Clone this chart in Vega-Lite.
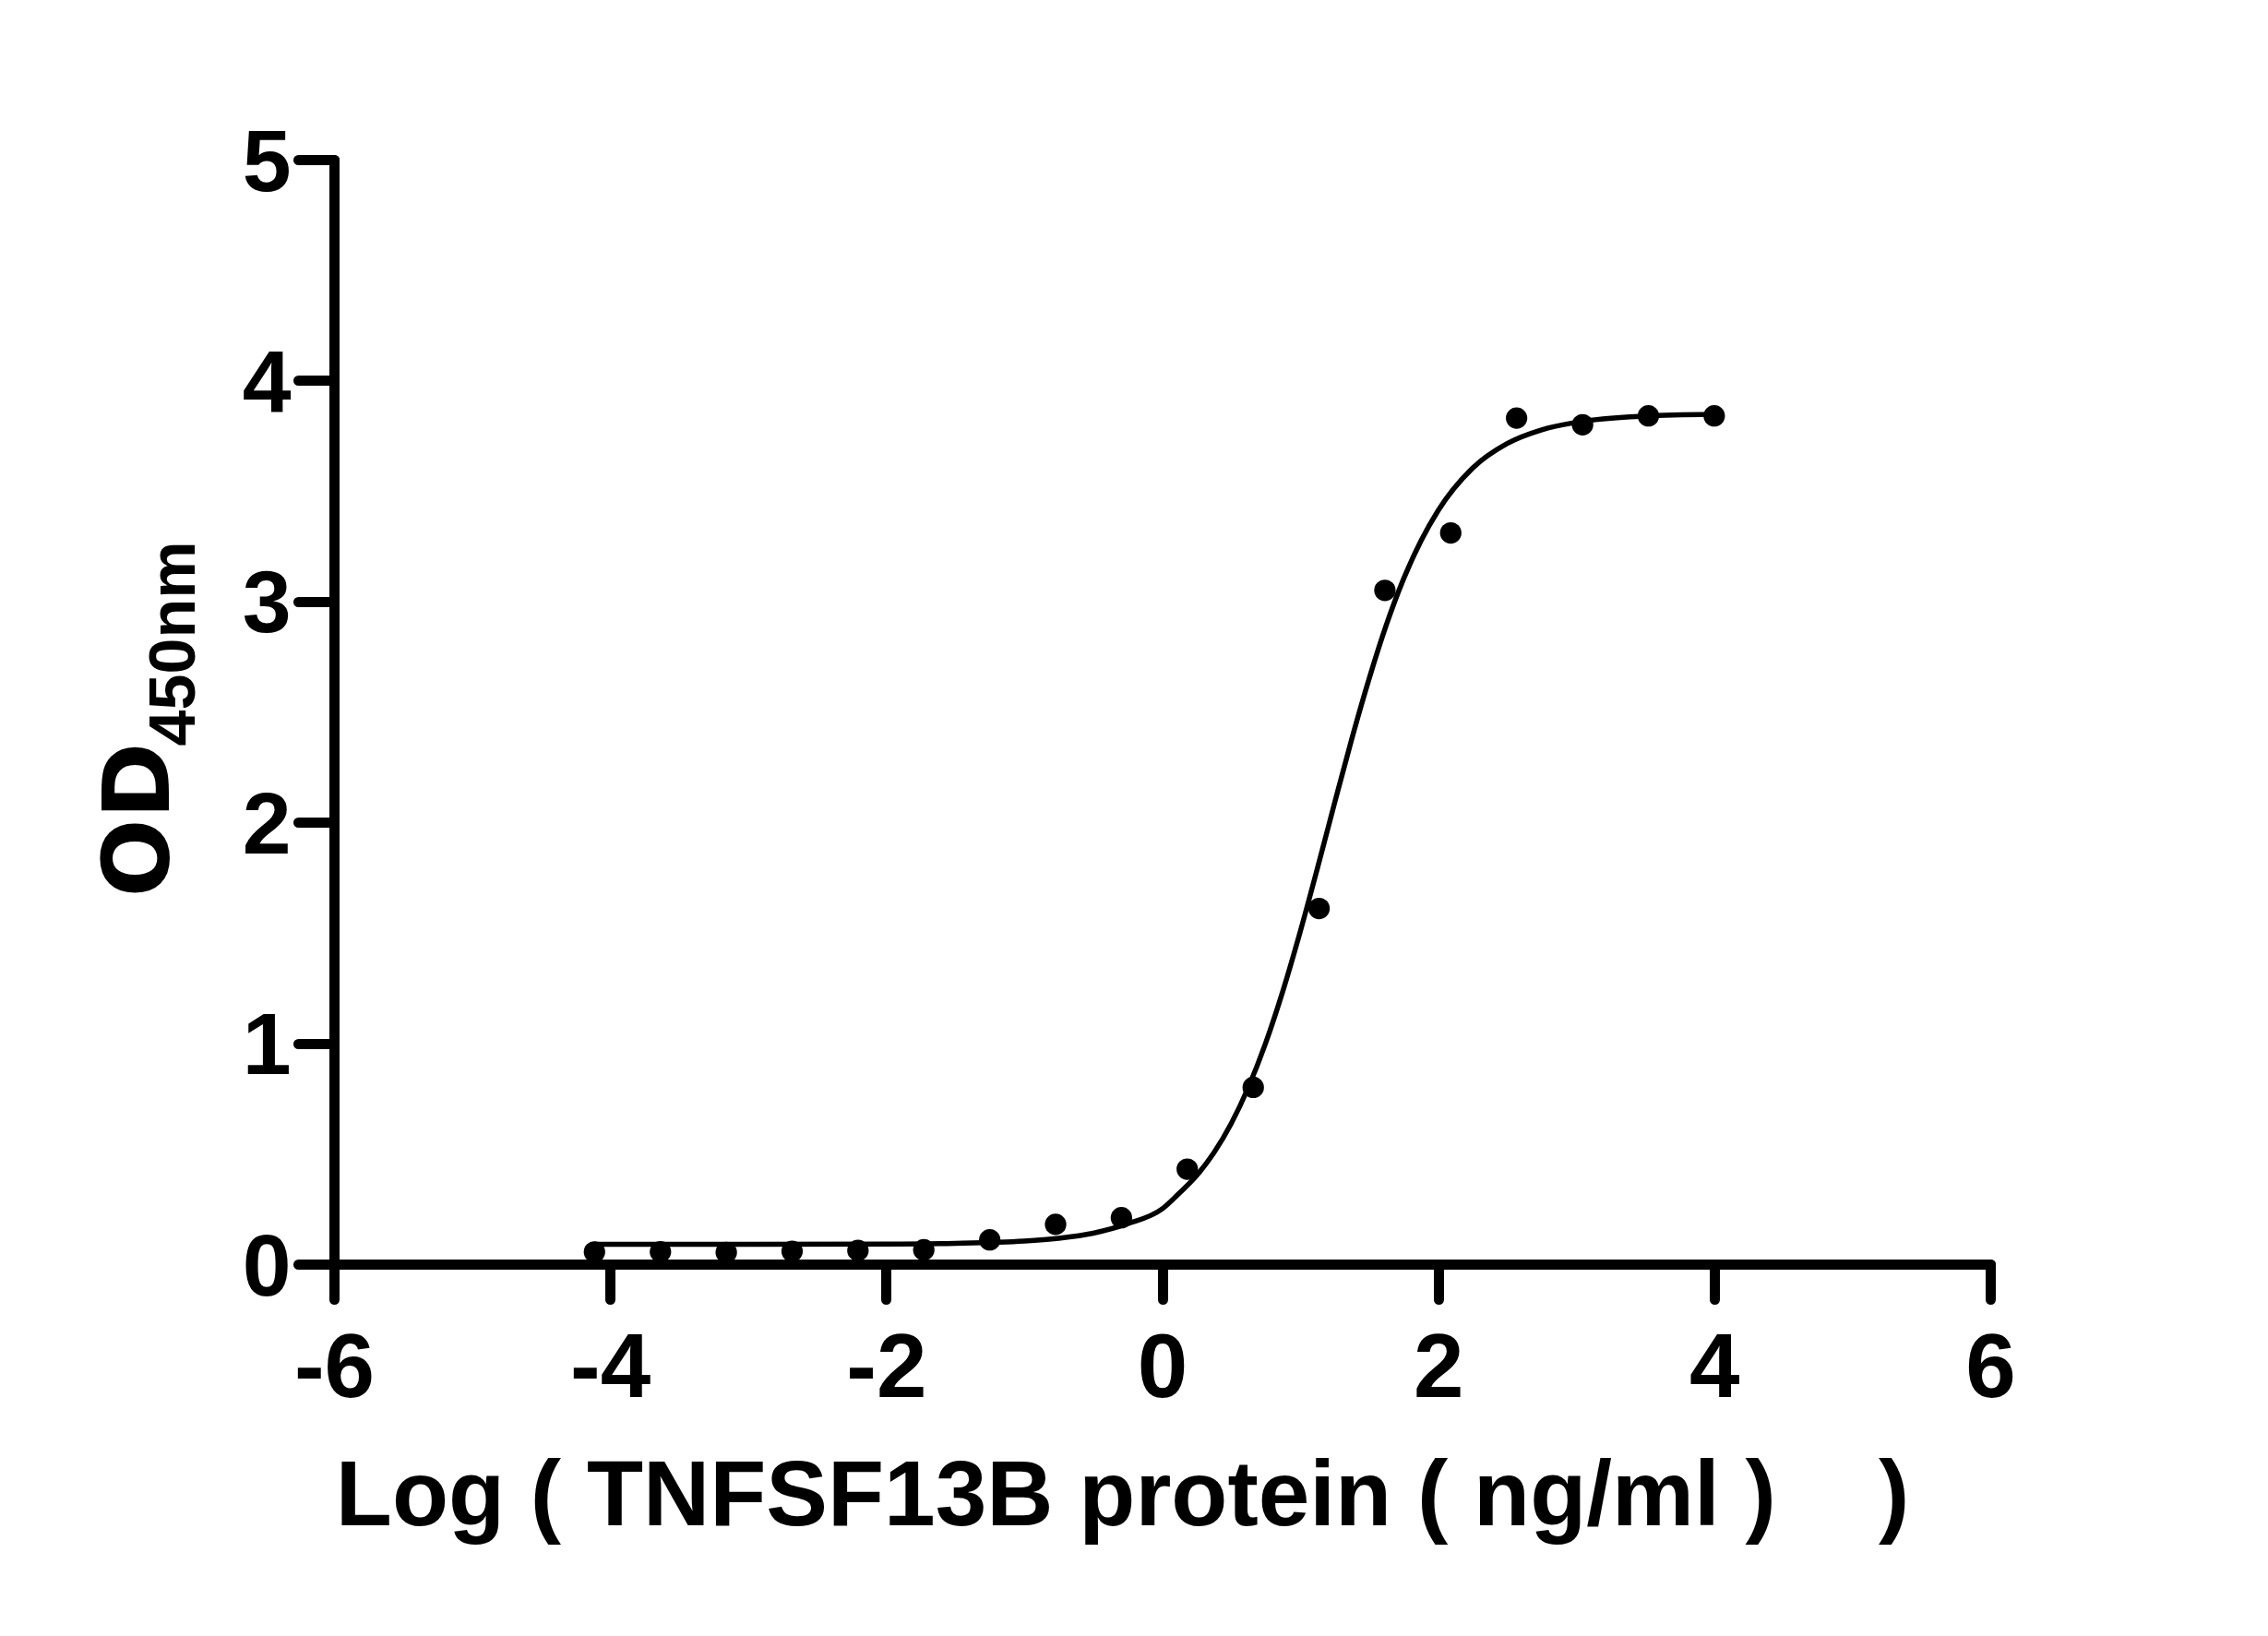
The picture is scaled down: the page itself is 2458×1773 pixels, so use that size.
{
  "$schema": "https://vega.github.io/schema/vega-lite/v6.json",
  "width": 1795,
  "height": 1197,
  "autosize": "none",
  "padding": {"left": 362, "top": 173, "right": 301, "bottom": 403},
  "background": "white",
  "config": {
    "view": {"stroke": null},
    "axis": {
      "grid": false,
      "domainColor": "black",
      "domainWidth": 11,
      "domainCap": "round",
      "tickColor": "black",
      "tickWidth": 11,
      "tickCap": "round",
      "labelColor": "black",
      "labelFont": "Liberation Sans",
      "labelFontWeight": "bold",
      "labelLimit": 0,
      "labelFlush": false,
      "labelOverlap": false,
      "titleColor": "black",
      "titleFontWeight": "bold",
      "titleLimit": 0
    }
  },
  "datasets": {
    "points": [
      {"logConc": -4.113, "od": 0.055},
      {"logConc": -3.635, "od": 0.056},
      {"logConc": -3.158, "od": 0.053},
      {"logConc": -2.681, "od": 0.058},
      {"logConc": -2.204, "od": 0.062},
      {"logConc": -1.727, "od": 0.065},
      {"logConc": -1.249, "od": 0.11},
      {"logConc": -0.772, "od": 0.18},
      {"logConc": -0.295, "od": 0.21},
      {"logConc": 0.182, "od": 0.43},
      {"logConc": 0.66, "od": 0.8},
      {"logConc": 1.137, "od": 1.61},
      {"logConc": 1.614, "od": 3.05},
      {"logConc": 2.091, "od": 3.31},
      {"logConc": 2.568, "od": 3.83},
      {"logConc": 3.046, "od": 3.8},
      {"logConc": 3.523, "od": 3.84},
      {"logConc": 4.0, "od": 3.84}
    ],
    "fit": [
      {"logConc": -4.12, "od": 0.09},
      {"logConc": -3.0, "od": 0.09},
      {"logConc": -2.0, "od": 0.091},
      {"logConc": -1.5, "od": 0.094},
      {"logConc": -1.0, "od": 0.104},
      {"logConc": -0.75, "od": 0.117},
      {"logConc": -0.5, "od": 0.14},
      {"logConc": -0.25, "od": 0.183},
      {"logConc": 0.0, "od": 0.25},
      {"logConc": 0.125, "od": 0.322},
      {"logConc": 0.25, "od": 0.401},
      {"logConc": 0.375, "od": 0.504},
      {"logConc": 0.5, "od": 0.636},
      {"logConc": 0.625, "od": 0.801},
      {"logConc": 0.75, "od": 1.001},
      {"logConc": 0.875, "od": 1.237},
      {"logConc": 1.0, "od": 1.504},
      {"logConc": 1.125, "od": 1.792},
      {"logConc": 1.25, "od": 2.089},
      {"logConc": 1.375, "od": 2.38},
      {"logConc": 1.5, "od": 2.651},
      {"logConc": 1.625, "od": 2.895},
      {"logConc": 1.75, "od": 3.103},
      {"logConc": 1.875, "od": 3.274},
      {"logConc": 2.0, "od": 3.412},
      {"logConc": 2.25, "od": 3.604},
      {"logConc": 2.5, "od": 3.715},
      {"logConc": 2.75, "od": 3.777},
      {"logConc": 3.0, "od": 3.811},
      {"logConc": 3.5, "od": 3.839},
      {"logConc": 3.99, "od": 3.847}
    ]
  },
  "layer": [
    {
      "data": {"name": "fit"},
      "mark": {"type": "line", "color": "black", "strokeWidth": 5.5, "interpolate": "monotone"},
      "encoding": {
        "x": {
          "field": "logConc",
          "type": "quantitative",
          "scale": {"domain": [-6, 6], "nice": false, "zero": false},
          "axis": {
            "values": [-6, -4, -2, 0, 2, 4, 6],
            "labelExpr": "'' + datum.value",
            "tickSize": 38,
            "labelPadding": 28,
            "labelFontSize": 98,
            "labelFont": "Liberation Sans",
            "title": "Log ( TNFSF13B protein ( ng/ml )\u00a0\u00a0\u00a0\u00a0)",
            "titleFont": "Liberation Sans",
            "titleFontSize": 100,
            "titleX": 854,
            "titleY": 282,
            "titleAlign": "center",
            "titleBaseline": "alphabetic"
          }
        },
        "y": {
          "field": "od",
          "type": "quantitative",
          "scale": {"domain": [0, 5], "nice": false},
          "axis": {
            "values": [0, 1, 2, 3, 4, 5],
            "tickSize": 39,
            "labelPadding": 8,
            "labelFontSize": 95,
            "labelOffset": 4,
            "title": "OD",
            "titleFont": "DejaVu Sans",
            "titleFontSize": 100,
            "titleAngle": 270,
            "titleX": -180,
            "titleY": 715,
            "titleAlign": "center",
            "titleBaseline": "alphabetic"
          }
        }
      }
    },
    {
      "data": {"name": "points"},
      "mark": {"type": "circle", "color": "black", "opacity": 1, "size": 540},
      "encoding": {
        "x": {"field": "logConc", "type": "quantitative", "scale": {"domain": [-6, 6], "nice": false, "zero": false}},
        "y": {
          "field": "od",
          "type": "quantitative",
          "scale": {"domain": [0, 5], "nice": false},
          "axis": {
            "orient": "right",
            "domain": false,
            "ticks": false,
            "labels": false,
            "title": "450nm",
            "titleFont": "Liberation Sans",
            "titleFontSize": 70,
            "titleAngle": 270,
            "titleX": -1947,
            "titleY": 524,
            "titleAlign": "center",
            "titleBaseline": "alphabetic"
          }
        }
      }
    }
  ],
  "resolve": {"scale": {"y": "independent"}, "axis": {"y": "independent"}}
}
